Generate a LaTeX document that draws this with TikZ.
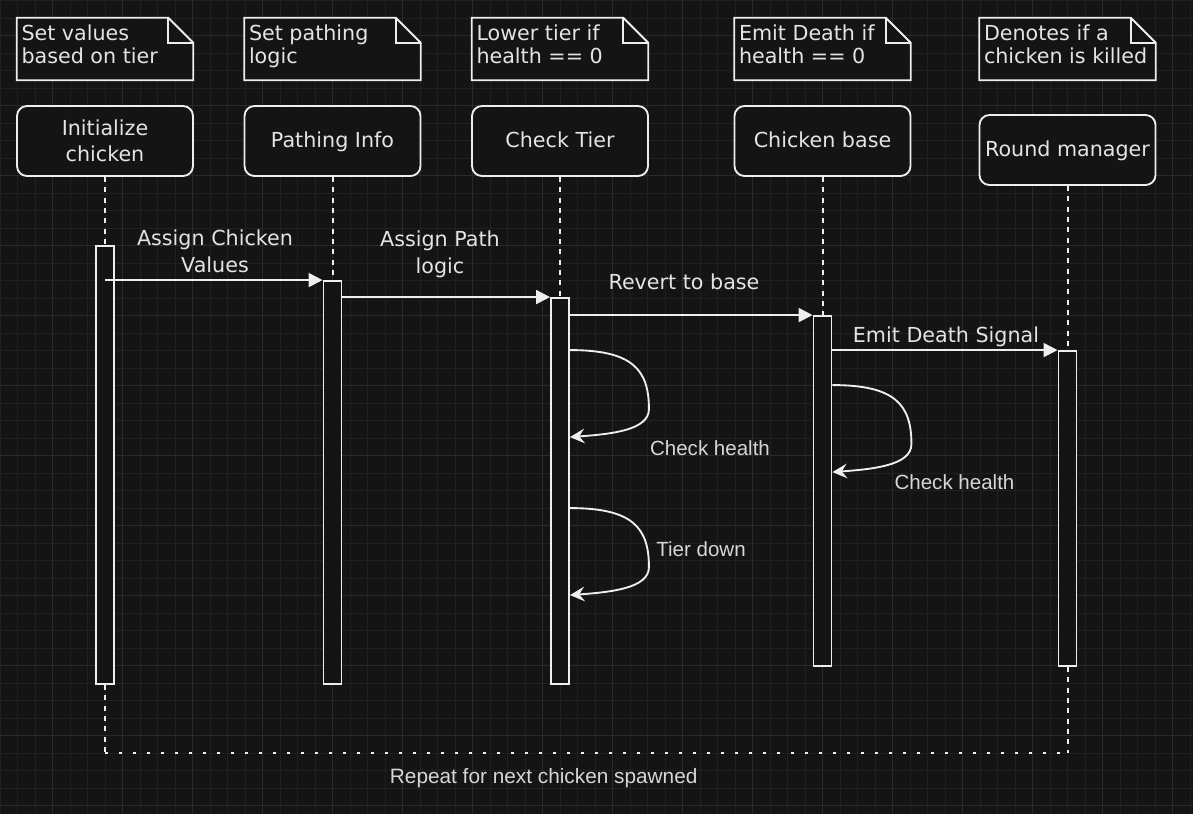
\documentclass[tikz,border=0pt]{standalone}
\usepackage{fontspec}
\setmainfont{DejaVu Sans}
\newfontfamily\arialf{Liberation Sans}
\usetikzlibrary{arrows.meta,calc}
\pgfdeclarelayer{back}
\pgfsetlayers{back,main}
\definecolor{bg}{HTML}{141414}
\definecolor{gridminor}{HTML}{202020}
\definecolor{gridmajor}{HTML}{2A2A2A}
\definecolor{ink}{HTML}{EEEEEE}
\definecolor{txt}{HTML}{E4E4E4}
\definecolor{txtb}{HTML}{D6D6D6}
\tikzset{
  headbox/.style={draw=ink, fill=bg, line width=1.4pt, rounded corners=7.5pt,
    minimum width=132pt, minimum height=52.5pt, inner sep=0pt, text=txt,
    align=center, font=\fontsize{15.5}{19.5}\selectfont},
  oneline/.style={text height=12pt, text depth=3pt},
  notebox/.style={minimum width=132pt, minimum height=46.5pt, inner sep=0pt},
  notepath/.style={draw=ink, fill=bg, line width=1.4pt},
  notetext/.style={anchor=north west, inner sep=0pt, align=left, text=txt,
    font=\fontsize{15.5}{17.5}\selectfont},
  bar/.style={draw=ink, fill=bg, line width=1.4pt, minimum width=13.5pt, inner sep=0pt},
  lifeline/.style={draw=ink, line width=1.5pt, dash pattern=on 3.75pt off 4pt},
  dotline/.style={draw=ink, line width=2.2pt, dash pattern=on 2.2pt off 8.3pt},
  msg/.style={draw=ink, line width=1.4pt, -{Triangle[length=10.5pt,width=10.5pt]}},
  loopline/.style={draw=ink, line width=1.4pt, -{Stealth[length=11pt,width=11pt,inset=4pt]}},
  msglabel/.style={inner sep=0pt, align=center, text=txt, font=\fontsize{15.5}{20}\selectfont},
  looplabel/.style={inner sep=0pt, text=txtb, font=\arialf\fontsize{15.4}{18}\selectfont},
  bottomlabel/.style={inner sep=0pt, text=txtb, font=\arialf\fontsize{15.6}{19}\selectfont}
}
\newcommand\drawnote[1]{%
  \draw[notepath] (#1.north west) -- ($(#1.north east)+(-25,0)$) -- ($(#1.north east)+(0,25)$)
    -- (#1.south east) -- (#1.south west) -- cycle;
  \draw[notepath, fill=none] ($(#1.north east)+(-25,0)$) |- ($(#1.north east)+(0,25)$);}
\newcommand\selfloop[2]{%
  \draw[loopline] ($(#1.north east)+(0,#2)$)
    .. controls ($(#1.north east)+(62,#2)$) and ($(#1.north east)+(79,#2+19)$)
    .. ($(#1.north east)+(79,#2+59)$)
    .. controls ($(#1.north east)+(79,#2+80)$) and ($(#1.north east)+(42,#2+84)$)
    .. ($(#1.north east)+(0,#2+87)$);}
\begin{document}
\begin{tikzpicture}[x=0.75pt,y=-0.75pt]
\useasboundingbox (0,0) rectangle (1193,814);
\begin{pgfonlayer}{back}
\fill[bg] (0,0) rectangle (1193,814);
\foreach \i in {0,...,68} {\draw[gridminor, line width=0.6pt] ({\i*17.5},0) -- ({\i*17.5},814);}
\foreach \j in {0,...,46} {\draw[gridminor, line width=0.6pt] (0,{\j*17.5+0.8}) -- (1193,{\j*17.5+0.8});}
\foreach \i in {0,...,16} {\draw[gridmajor, line width=0.6pt] ({52.5+\i*70},0) -- ({52.5+\i*70},814);}
\foreach \j in {0,...,11} {\draw[gridmajor, line width=0.6pt] (0,{35+\j*70+0.8}) -- (1193,{35+\j*70+0.8});}
\end{pgfonlayer}

% notes
\node[notebox] (n1) at (105,49) {};
\node[notebox] (n2) at (332.5,49) {};
\node[notebox] (n3) at (560,49) {};
\node[notebox] (n4) at (822.5,49) {};
\node[notebox] (n5) at (1067.5,49) {};
\drawnote{n1}\drawnote{n2}\drawnote{n3}\drawnote{n4}\drawnote{n5}
\node[notetext] (nt1) at ($(n1.north west)+(4.5,6.5)$) {Set values\\based on tier};
\node[notetext] (nt2) at ($(n2.north west)+(4.5,6.5)$) {Set pathing\\logic};
\node[notetext] (nt3) at ($(n3.north west)+(4.5,6.5)$) {Lower tier if\\health == 0};
\node[notetext] (nt4) at ($(n4.north west)+(4.5,6.5)$) {Emit Death if\\health == 0};
\node[notetext] (nt5) at ($(n5.north west)+(4.5,6.5)$) {Denotes if a\\chicken is killed};

% header boxes
\node[headbox] (h1) at (105,141) {Initialize\\chicken};
\node[headbox, oneline] (h2) at (332.5,141) {Pathing Info};
\node[headbox, oneline] (h3) at (560,141) {Check Tier};
\node[headbox, oneline] (h4) at (822.5,141) {Chicken base};
\node[headbox, oneline] (h5) at (1067.5,150) {Round manager};

% activation bars
\node[bar, minimum height=328.5pt] (b1) at (105,465) {};
\node[bar, minimum height=302.25pt] (b2) at (332.5,482.5) {};
\node[bar, minimum height=289.5pt] (b3) at (560,491) {};
\node[bar, minimum height=262.5pt] (b4) at (822.5,491) {};
\node[bar, minimum height=236.25pt] (b5) at (1067.5,508.5) {};

% lifelines and repeat path (behind the bars)
\coordinate (r1) at (105,753);
\coordinate (r2) at (1067.5,753);
\begin{pgfonlayer}{back}
\draw[lifeline] (h1.south) -- (b1.north);
\draw[lifeline] (h2.south) -- (b2.north);
\draw[lifeline] (h3.south) -- (b3.north);
\draw[lifeline] (h4.south) -- (b4.north);
\draw[lifeline] (h5.south) -- (b5.north);
\draw[lifeline] (b1.south) -- (r1);
\draw[lifeline] (b5.south) -- (r2);
\draw[dotline] (r1) -- (r2);
\end{pgfonlayer}

% messages
\draw[msg] (b1.center |- b2.north) -- (b2.north west);
\draw[msg] (b2.east |- b3.north) -- (b3.north west);
\draw[msg] (b3.east |- b4.north) -- (b4.north west);
\draw[msg] (b4.east |- b5.north) -- (b5.north west);
\node[msglabel, anchor=north] (m1) at (215,229.5) {Assign Chicken\\Values};
\node[msglabel, anchor=north] (m2) at (440,230.5) {Assign Path\\logic};
\node[msglabel, anchor=base] (m3) at (684,289) {Revert to base};
\node[msglabel, anchor=base] (m4) at (946,342.5) {Emit Death Signal};

% self calls
\selfloop{b3}{53}
\selfloop{b3}{211}
\selfloop{b4}{70}
\node[looplabel, anchor=base] (c1) at (710,455) {Check health};
\node[looplabel, anchor=base] (c2) at (701,556) {Tier down};
\node[looplabel, anchor=base] (c3) at (954.5,489) {Check health};

\node[bottomlabel, anchor=base] (rep) at (543.7,783) {Repeat for next chicken spawned};
\end{tikzpicture}
\end{document}
